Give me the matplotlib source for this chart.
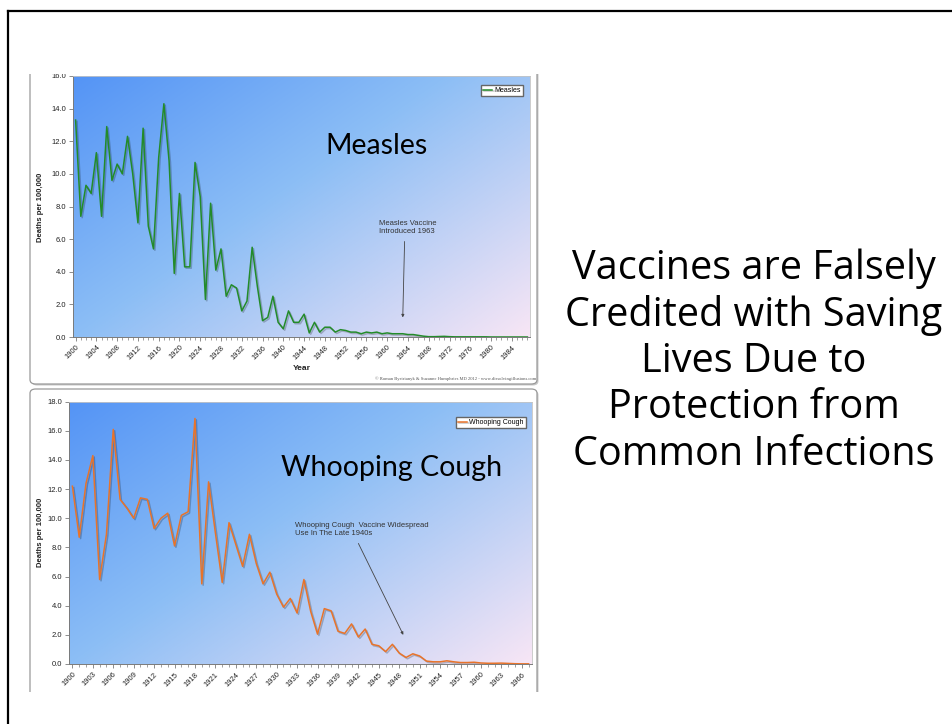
import numpy as np
import matplotlib
matplotlib.use("Agg")
import matplotlib.pyplot as plt
from matplotlib.patches import FancyBboxPatch, Rectangle
from matplotlib.lines import Line2D
import matplotlib.patheffects as pe

# data (deaths per 100,000)
measles_years = list(range(1900, 1988))
measles = [13.3, 7.4, 9.3, 8.8, 11.3, 7.4, 12.9, 9.6, 10.6, 10.0,
           12.3, 10.0, 7.0, 12.8, 6.8, 5.4, 11.0, 14.3, 10.8, 3.9,
           8.8, 4.3, 4.3, 10.7, 8.6, 2.3, 8.2, 4.1, 5.4, 2.5,
           3.2, 3.0, 1.6, 2.2, 5.5, 3.1, 1.0, 1.2, 2.5, 0.9,
           0.5, 1.6, 0.9, 0.9, 1.4, 0.25, 0.9, 0.3, 0.6, 0.6,
           0.3, 0.45, 0.4, 0.3, 0.3, 0.2, 0.3, 0.25, 0.3, 0.2,
           0.25, 0.2, 0.2, 0.2, 0.15, 0.15, 0.1, 0.05, 0.02, 0.02,
           0.03, 0.04, 0.02, 0.01, 0.01, 0.01, 0.01, 0.01, 0.01, 0.01,
           0.0, 0.0, 0.0, 0.0, 0.0, 0.0, 0.0, 0.0]

whoop_years = list(range(1900, 1968))
whoop = [12.2, 8.7, 12.4, 14.3, 5.8, 8.9, 16.1, 11.3, 10.7, 10.0,
         11.4, 11.3, 9.3, 10.0, 10.35, 8.1, 10.2, 10.45, 16.85, 5.5,
         12.5, 9.0, 5.6, 9.7, 8.2, 6.7, 8.9, 6.9, 5.5, 6.3,
         4.8, 3.9, 4.5, 3.5, 5.8, 3.6, 2.05, 3.8, 3.65, 2.25,
         2.1, 2.75, 1.85, 2.4, 1.35, 1.25, 0.85, 1.35, 0.75, 0.45,
         0.7, 0.55, 0.2, 0.15, 0.15, 0.22, 0.15, 0.1, 0.1, 0.12,
         0.07, 0.05, 0.05, 0.06, 0.04, 0.02, 0.01, 0.01]

measles_ticks = list(range(1900, 1988, 4))
whoop_ticks = list(range(1900, 1968, 3))

title_lines = ["Vaccines are Falsely", "Credited with Saving", "Lives Due to",
               "Protection from", "Common Infections"]

W, H = 952, 724
def fx(x): return x / W
def fy(y): return 1 - y / H

plt.rcParams['font.family'] = ['Liberation Sans', 'DejaVu Sans']
fig = plt.figure(figsize=(W / 100, H / 100), dpi=100)
fig.patch.set_facecolor('white')

# gradient for plot background
gx, gy = np.meshgrid(np.linspace(0, 1, 300), np.linspace(1, 0, 200))
t = 0.55 * gx + 0.45 * (1 - gy)
stops = np.array([0.0, 0.45, 1.0])
cols = np.array([[84, 148, 246], [140, 190, 245], [248, 230, 245]]) / 255
grad = np.stack([np.interp(t, stops, cols[:, k]) for k in range(3)], axis=-1)

# panel boxes
for (x0, y0, x1, y1) in [(30, 40, 537, 384), (30, 389, 537, 740)]:
    shadow = FancyBboxPatch((fx(x0) + 1.5 / W, fy(y1) - 1.5 / H), (x1 - x0) / W, (y1 - y0) / H,
                            boxstyle="round,pad=0,rounding_size=0.006",
                            transform=fig.transFigure, facecolor='#c8c8c8', edgecolor='none', zorder=-3)
    fig.patches.append(shadow)
    box = FancyBboxPatch((fx(x0), fy(y1)), (x1 - x0) / W, (y1 - y0) / H,
                         boxstyle="round,pad=0,rounding_size=0.006",
                         transform=fig.transFigure, facecolor='white', edgecolor='#9a9a9a',
                         lw=0.9, zorder=-2)
    fig.patches.append(box)


def style_axis(ax, years, values, ticks, ymax, color, label):
    ax.imshow(grad, extent=[0, 1, 0, 1], transform=ax.transAxes, aspect='auto', zorder=0)
    ax.plot(years, values, color=color, lw=1.1, label=label, zorder=3,
            path_effects=[pe.SimpleLineShadow(offset=(1, -1), alpha=0.22), pe.Normal()])
    ax.set_xlim(years[0] - 0.5, years[-1] + 0.5)
    ax.set_ylim(0, ymax)
    ax.set_yticks(np.arange(0, ymax + 0.1, 2.0))
    ax.set_yticklabels([f"{v:.1f}" for v in np.arange(0, ymax + 0.1, 2.0)])
    ax.set_xticks(ticks)
    ax.set_xticklabels([str(v) for v in ticks], rotation=45, ha='right', rotation_mode='anchor')
    ax.set_xticks(years, minor=True)
    ax.tick_params(axis='both', which='major', labelsize=5.5, length=3, width=0.6,
                   color='#7a7a7a', labelcolor='#222222', pad=2)
    ax.tick_params(axis='x', which='minor', length=2, width=0.5, color='#7a7a7a')
    for side in ['left', 'bottom']:
        ax.spines[side].set_color('#7a7a7a')
        ax.spines[side].set_linewidth(0.7)
    for side in ['top', 'right']:
        ax.spines[side].set_color('#c4c4c4')
        ax.spines[side].set_linewidth(0.6)


ax1 = fig.add_axes([fx(73), fy(337), (530 - 73) / W, (337 - 76) / H])
style_axis(ax1, measles_years, measles, measles_ticks, 16.0, '#238b2a', 'Measles')
ax1.legend(loc='upper right', bbox_to_anchor=(0.985, 0.966), fontsize=5, frameon=True,
           fancybox=False, edgecolor='#666666', framealpha=1, handlelength=1.4,
           handletextpad=0.3, borderpad=0.3, borderaxespad=0)
ax1.annotate('Measles Vaccine\nIntroduced 1963', xy=(1963, 1.2), xytext=(1958.4, 7.2),
             textcoords='data', ha='left', va='top', fontsize=5.5, color='#333333',
             arrowprops=dict(arrowstyle='-|>', lw=0.6, color='#444444', mutation_scale=4,
                             shrinkA=3, shrinkB=0, relpos=(0.45, 0)))

ax2 = fig.add_axes([fx(69), fy(664), (532 - 69) / W, (664 - 401.7) / H])
style_axis(ax2, whoop_years, whoop, whoop_ticks, 18.0, '#e8732a', 'Whooping Cough')
ax2.legend(loc='upper right', bbox_to_anchor=(0.987, 0.942), fontsize=5, frameon=True,
           fancybox=False, edgecolor='#666666', framealpha=1, handlelength=1.4,
           handletextpad=0.3, borderpad=0.3, borderaxespad=0)
ax2.annotate('Whooping Cough  Vaccine Widespread\nUse In The Late 1940s', xy=(1948.6, 2.0),
             xytext=(1932.7, 9.75), textcoords='data', ha='left', va='top', fontsize=5.5,
             color='#333333',
             arrowprops=dict(arrowstyle='-|>', lw=0.6, color='#444444', mutation_scale=4,
                             shrinkA=3, shrinkB=0, relpos=(0.45, 0)))

# axis titles
fig.text(fx(40), fy(207), 'Deaths per 100,000', rotation=90, ha='center', va='center',
         fontsize=5.5, fontweight='bold', color='#222222')
fig.text(fx(40), fy(532), 'Deaths per 100,000', rotation=90, ha='center', va='center',
         fontsize=5.5, fontweight='bold', color='#222222')
fig.text(fx(302), fy(369), 'Year', ha='center', va='center', fontsize=6,
         fontweight='bold', color='#222222')
fig.text(fx(536), fy(379), '\u00a9 Roman Bystrianyk & Suzanne Humphries MD 2012 - www.dissolvingillusions.com',
         ha='right', va='center', fontsize=3.3, family='Liberation Serif', color='#555555')

# big labels on the charts
fig.text(fx(376), fy(146), 'Measles', ha='center', va='center', fontsize=20.5,
         family=['Lato', 'DejaVu Sans'], color='black')
fig.text(fx(392), fy(468), 'Whooping Cough', ha='center', va='center', fontsize=20.5,
         family=['Lato', 'DejaVu Sans'], color='black')

# crop of the embedded picture above the top chart and below the bottom one
fig.patches.append(Rectangle((fx(9), fy(74)), (548 - 9) / W, (74 - 11) / H,
                             transform=fig.transFigure, facecolor='white', edgecolor='none', zorder=10))
fig.patches.append(Rectangle((fx(9), fy(724)), (548 - 9) / W, (724 - 692) / H,
                             transform=fig.transFigure, facecolor='white', edgecolor='none', zorder=10))

# slide frame
fig.lines.append(Line2D([fx(7.5), 1.0], [fy(10.5), fy(10.5)], transform=fig.transFigure,
                        color='black', lw=1.6, zorder=11))
fig.lines.append(Line2D([fx(7.5), fx(7.5)], [fy(10.5), 0.0], transform=fig.transFigure,
                        color='black', lw=1.6, zorder=11))

# text on the right
baselines = [279, 325.5, 372, 418.5, 465]
for line, yb in zip(title_lines, baselines):
    fig.text(fx(754), fy(yb), line, ha='center', va='baseline', fontsize=28.5,
             family=['Open Sans', 'DejaVu Sans'], color='black')

fig.savefig('out.png', dpi=100)
